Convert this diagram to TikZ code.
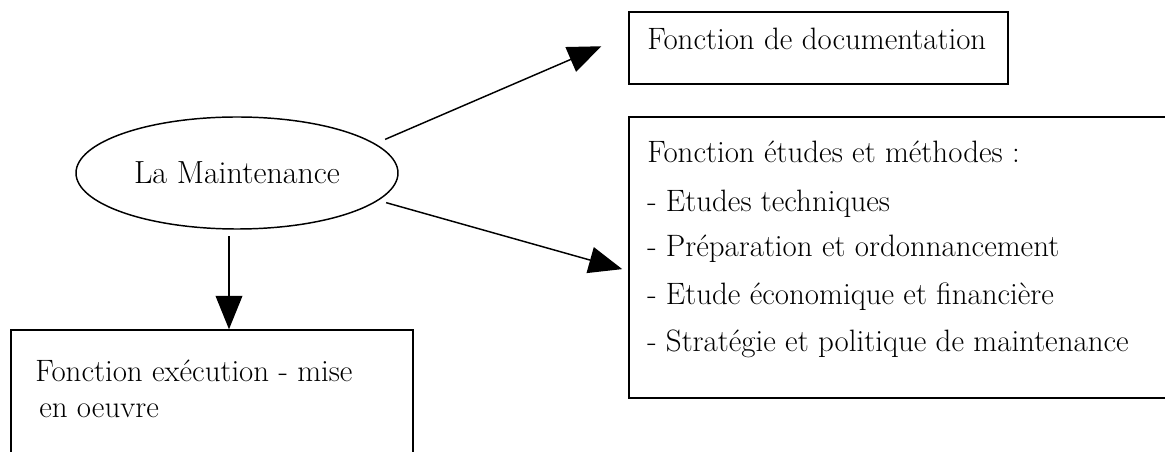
\documentclass[tikz,border=0pt]{standalone}
\usepackage{fontspec}
\usetikzlibrary{arrows.meta,shapes.geometric}
\tikzset{
  lbl/.style={anchor=base west, inner sep=0pt, font=\fontsize{23.2}{27}\selectfont},
  boxshape/.style={draw, line width=1.1pt, rectangle, inner sep=0pt},
  arr/.style={line width=1.1pt, -{Triangle[length=25pt,width=20pt]}}
}
\begin{document}
\begin{tikzpicture}[x=0.75pt,y=-0.75pt]
\clip (0,0) rectangle (1165,452);
\fill[white] (0,0) rectangle (1165,452);
% nodes
\node[draw, ellipse, line width=1.1pt, minimum width=241.5pt, minimum height=84pt, inner sep=0pt,
      font=\fontsize{24}{28}\selectfont] (ell) at (237,173) {La Maintenance};
\node[boxshape, minimum width=284.25pt, minimum height=54pt] (doc) at (818.5,48) {};
\node[boxshape, minimum width=409.5pt, minimum height=210.75pt] (meth) at (902,257.5) {};
\node[boxshape, minimum width=301.5pt, minimum height=105pt] (exe) at (212,400) {};
% texts
\node[lbl] (t1) at (647,50) {Fonction de documentation};
\node[lbl] (m1) at (647,163) {Fonction études et méthodes :};
\node[lbl] (m2) at (647,212) {- Etudes techniques};
\node[lbl] (m3) at (647,257) {- Préparation et ordonnancement};
\node[lbl] (m4) at (647,305) {- Etude économique et financière};
\node[lbl] (m5) at (647,352) {- Stratégie et politique de maintenance};
\node[lbl] (e1) at (35,382) {Fonction exécution - mise};
\node[lbl] (e2) at (39,418) {en oeuvre};
% connectors
\draw[arr, shorten <=8pt, shorten >=22pt] (ell.12) -- ([yshift=10pt]doc.west);
\draw[arr, shorten <=6pt, shorten >=4.7pt] (ell.-11) -- ([yshift=-10pt]meth.west);
\draw[arr, shorten <=5pt] ([xshift=-6pt]ell.south) -- ([xshift=-6pt]ell.south |- exe.north);
\end{tikzpicture}
\end{document}
